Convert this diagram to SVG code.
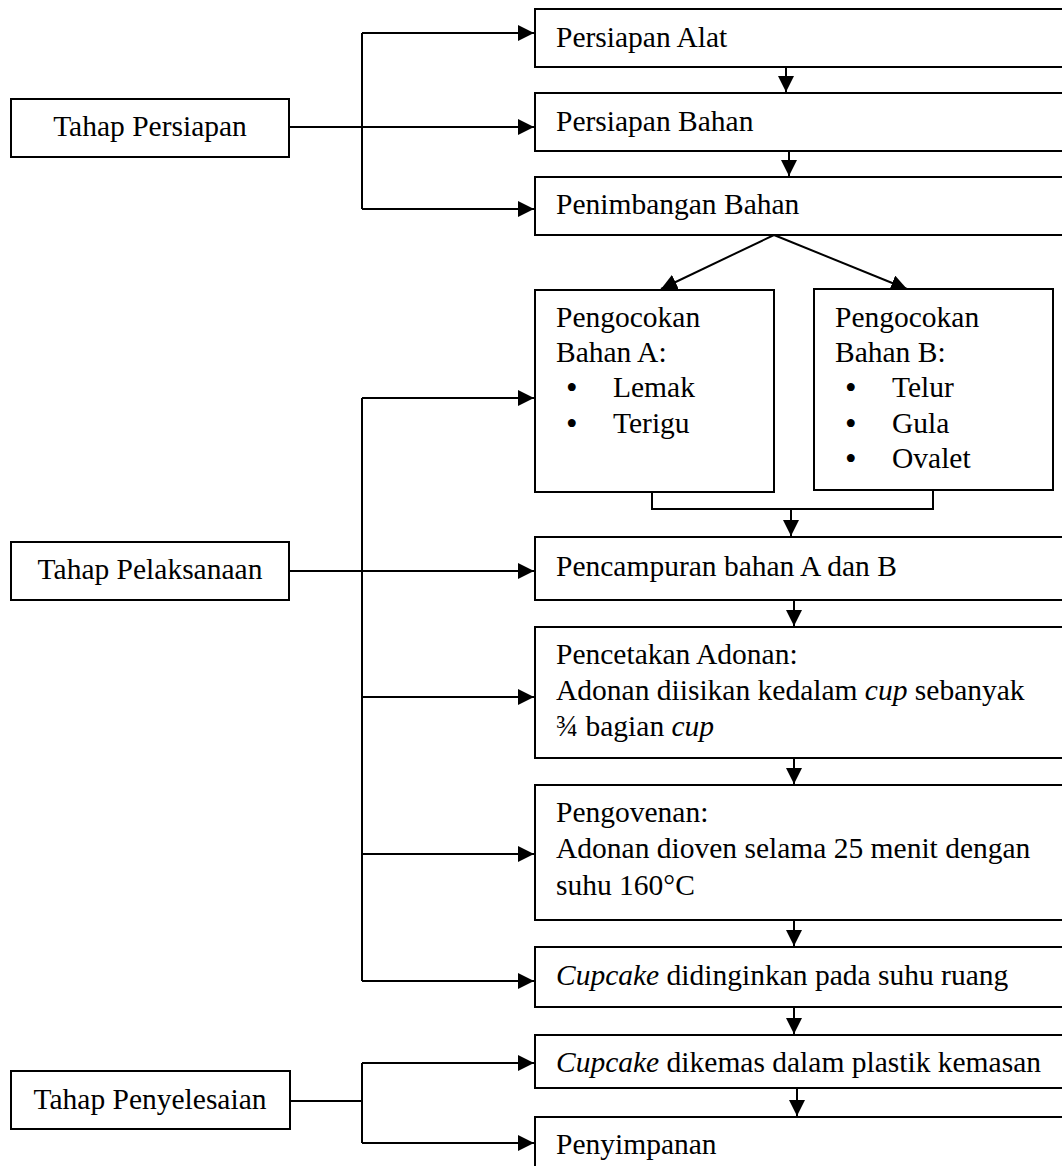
<svg xmlns="http://www.w3.org/2000/svg" width="1062" height="1166" viewBox="0 0 1062 1166">
<style>
.box{fill:#fff;stroke:#000;stroke-width:2}
.ln{fill:none;stroke:#000;stroke-width:2}
.t{font-family:"Liberation Serif","Times New Roman",serif;font-size:29.5px;fill:#000}
.c{text-anchor:middle}
.i{font-style:italic}
.b{font-size:33px}
</style>
<defs>
<marker id="ah" markerUnits="userSpaceOnUse" markerWidth="17" markerHeight="16" refX="16" refY="8" orient="auto">
<path d="M0,0 L16,8 L0,16 z" fill="#000"/>
</marker>
</defs>
<rect width="1062" height="1166" fill="#fff"/>
<g id="connectors">
<path class="ln" d="M289,127 H534" marker-end="url(#ah)"/>
<path class="ln" d="M362,33 V209"/>
<path class="ln" d="M362,33 H534" marker-end="url(#ah)"/>
<path class="ln" d="M362,209 H534" marker-end="url(#ah)"/>
<path class="ln" d="M786,67 V92" marker-end="url(#ah)"/>
<path class="ln" d="M789,151 V176" marker-end="url(#ah)"/>
<path class="ln" d="M774,235 L661,289" marker-end="url(#ah)"/>
<path class="ln" d="M774,235 L907,289" marker-end="url(#ah)"/>
<path class="ln" d="M652,492 V509 H933 V490"/>
<path class="ln" d="M791,509 V536" marker-end="url(#ah)"/>
<path class="ln" d="M289,571 H534" marker-end="url(#ah)"/>
<path class="ln" d="M362,398 V981"/>
<path class="ln" d="M362,398 H534" marker-end="url(#ah)"/>
<path class="ln" d="M362,697 H534" marker-end="url(#ah)"/>
<path class="ln" d="M362,854 H534" marker-end="url(#ah)"/>
<path class="ln" d="M362,981 H534" marker-end="url(#ah)"/>
<path class="ln" d="M794,600 V626" marker-end="url(#ah)"/>
<path class="ln" d="M794,758 V784" marker-end="url(#ah)"/>
<path class="ln" d="M794,920 V946" marker-end="url(#ah)"/>
<path class="ln" d="M794,1007 V1034" marker-end="url(#ah)"/>
<path class="ln" d="M797,1088 V1116" marker-end="url(#ah)"/>
<path class="ln" d="M290,1101 H362"/>
<path class="ln" d="M362,1063 V1143"/>
<path class="ln" d="M362,1063 H534" marker-end="url(#ah)"/>
<path class="ln" d="M362,1143 H534" marker-end="url(#ah)"/>
</g>
<g id="tahap-persiapan">
<rect class="box" x="11" y="99" width="278" height="58"/>
<text class="t c" x="150" y="136">Tahap Persiapan</text>
</g>
<g id="persiapan-alat">
<rect class="box" x="535" y="9" width="540" height="58"/>
<text class="t" x="556" y="47">Persiapan Alat</text>
</g>
<g id="persiapan-bahan">
<rect class="box" x="535" y="93" width="540" height="58"/>
<text class="t" x="556" y="131">Persiapan Bahan</text>
</g>
<g id="penimbangan-bahan">
<rect class="box" x="535" y="177" width="540" height="58"/>
<text class="t" x="556" y="214">Penimbangan Bahan</text>
</g>
<g id="pengocokan-a">
<rect class="box" x="535" y="290" width="239" height="202"/>
<text class="t" x="556" y="327">Pengocokan</text>
<text class="t" x="556" y="362">Bahan A:</text>
<text class="t" y="397"><tspan class="b" x="566" dy="2">•</tspan><tspan x="613" dy="-2">Lemak</tspan></text>
<text class="t" y="433"><tspan class="b" x="566" dy="2">•</tspan><tspan x="613" dy="-2">Terigu</tspan></text>
</g>
<g id="pengocokan-b">
<rect class="box" x="814" y="289" width="239" height="201"/>
<text class="t" x="835" y="327">Pengocokan</text>
<text class="t" x="835" y="362">Bahan B:</text>
<text class="t" y="397"><tspan class="b" x="845" dy="2">•</tspan><tspan x="892" dy="-2">Telur</tspan></text>
<text class="t" y="433"><tspan class="b" x="845" dy="2">•</tspan><tspan x="892" dy="-2">Gula</tspan></text>
<text class="t" y="468"><tspan class="b" x="845" dy="2">•</tspan><tspan x="892" dy="-2">Ovalet</tspan></text>
</g>
<g id="tahap-pelaksanaan">
<rect class="box" x="11" y="542" width="278" height="58"/>
<text class="t c" x="150" y="579">Tahap Pelaksanaan</text>
</g>
<g id="pencampuran">
<rect class="box" x="535" y="537" width="540" height="63"/>
<text class="t" x="556" y="576">Pencampuran bahan A dan B</text>
</g>
<g id="pencetakan">
<rect class="box" x="535" y="627" width="540" height="131"/>
<text class="t" x="556" y="664">Pencetakan Adonan:</text>
<text class="t" x="556" y="700">Adonan diisikan kedalam <tspan class="i">cup</tspan> sebanyak</text>
<text class="t" x="556" y="736">¾ bagian <tspan class="i">cup</tspan></text>
</g>
<g id="pengovenan">
<rect class="box" x="535" y="785" width="540" height="135"/>
<text class="t" x="556" y="822">Pengovenan:</text>
<text class="t" x="556" y="858">Adonan dioven selama 25 menit dengan</text>
<text class="t" x="556" y="895">suhu 160°C</text>
</g>
<g id="didinginkan">
<rect class="box" x="535" y="947" width="540" height="60"/>
<text class="t" x="556" y="985"><tspan class="i">Cupcake</tspan> didinginkan pada suhu ruang</text>
</g>
<g id="tahap-penyelesaian">
<rect class="box" x="11" y="1071" width="279" height="58"/>
<text class="t c" x="150" y="1109">Tahap Penyelesaian</text>
</g>
<g id="dikemas">
<rect class="box" x="535" y="1035" width="540" height="53"/>
<text class="t" x="556" y="1072"><tspan class="i">Cupcake</tspan> dikemas dalam plastik kemasan</text>
</g>
<g id="penyimpanan">
<rect class="box" x="535" y="1117" width="540" height="70"/>
<text class="t" x="556" y="1154">Penyimpanan</text>
</g>
</svg>
